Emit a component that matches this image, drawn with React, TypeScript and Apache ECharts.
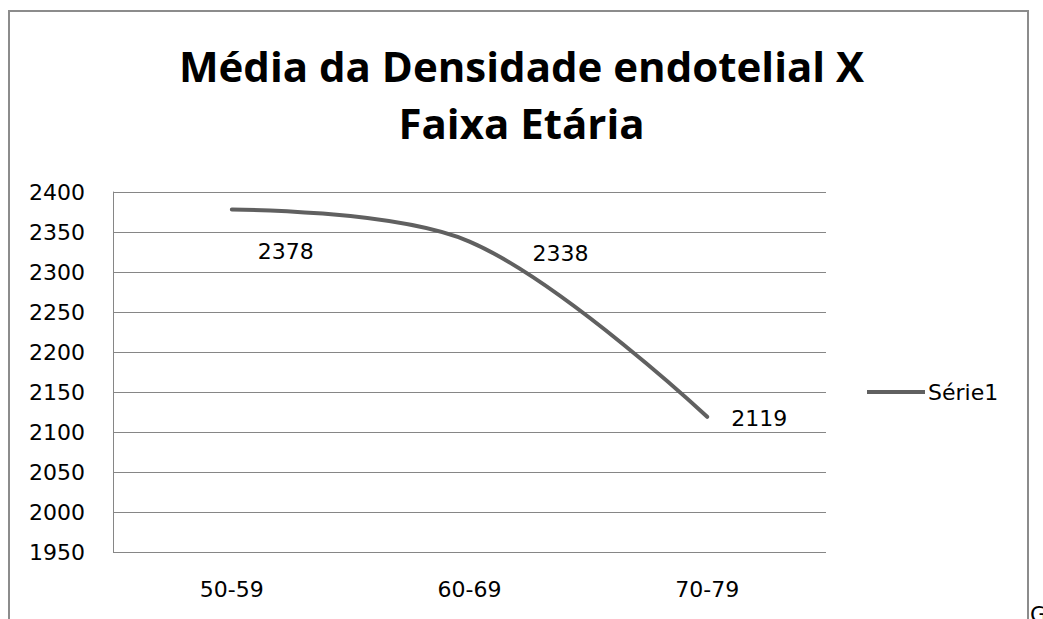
import React, { useEffect, useRef } from "react";
import * as echarts from "echarts";

const categories = ["50-59", "60-69", "70-79"];
const seriesValues = [2378, 2338, 2119];
const seriesName = "Série1";
const yTicks = { min: 1950, max: 2400, interval: 50 };
const labelOffsets = [[54, 42], [91, 12], [52, 2]];

const FONT = "DejaVu Sans";

export default function App() {
  const ref = useRef<HTMLDivElement>(null);
  useEffect(() => {
    if (!ref.current) return;
    const chart = echarts.init(ref.current, undefined, { renderer: "svg" });
    chart.setOption({
      animation: false,
      backgroundColor: "#ffffff",
      title: {
        text: "Média da Densidade endotelial X\nFaixa Etária",
        left: "center",
        top: 32,
        textStyle: {
          fontFamily: "Open Sans",
          fontWeight: "bold",
          fontSize: 42,
          lineHeight: 57,
          color: "#000000",
        },
      },
      legend: {
        data: [seriesName],
        left: 867,
        top: 381,
        padding: 0,
        icon: "rect",
        itemWidth: 58,
        itemHeight: 4,
        itemGap: 0,
        textStyle: { fontFamily: FONT, fontSize: 22, color: "#000", padding: [0, 0, 0, -2], lineHeight: 22 },
        itemStyle: { color: "#606060" },
      },
      grid: { left: 113, top: 192, right: 217, bottom: 67, containLabel: false },
      xAxis: {
        type: "category",
        data: categories,
        boundaryGap: true,
        axisLine: { show: false },
        axisTick: { show: false },
        axisLabel: { fontFamily: FONT, fontSize: 22, color: "#000", margin: 26 },
      },
      yAxis: {
        type: "value",
        min: yTicks.min,
        max: yTicks.max,
        interval: yTicks.interval,
        axisLine: { show: true, lineStyle: { color: "#868686", width: 1 } },
        axisTick: { show: false },
        splitLine: { show: true, lineStyle: { color: "#868686", width: 1 } },
        axisLabel: {
          fontFamily: FONT,
          fontSize: 22,
          color: "#000",
          margin: 28,
          formatter: (v: number) => String(v),
        },
      },
      series: [
        {
          name: seriesName,
          type: "line",
          smooth: 0.35,
          symbol: "circle",
          symbolSize: 2,
          showSymbol: true,
          lineStyle: { color: "#606060", width: 4, cap: "round" },
          itemStyle: { color: "#606060" },
          data: seriesValues.map((v, i) => ({
            value: v,
            label: { offset: labelOffsets[i] },
          })),
          label: {
            show: true,
            position: "inside",
            fontFamily: FONT,
            fontSize: 22,
            color: "#000",
          },
        },
      ],
      graphic: [
        {
          type: "rect",
          shape: { x: 9, y: 11, width: 1019, height: 700 },
          style: { fill: "none", stroke: "#8c8c8c", lineWidth: 2 },
          silent: true,
        },
        {
          type: "text",
          x: 1030,
          y: 603,
          style: { text: "G", fontFamily: FONT, fontSize: 22, fill: "#000" },
          silent: true,
        },
      ],
    });
    return () => chart.dispose();
  }, []);
  return (
    <div
      ref={ref}
      style={{ position: "fixed", left: 0, top: 0, width: 1043, height: 619 }}
    />
  );
}
